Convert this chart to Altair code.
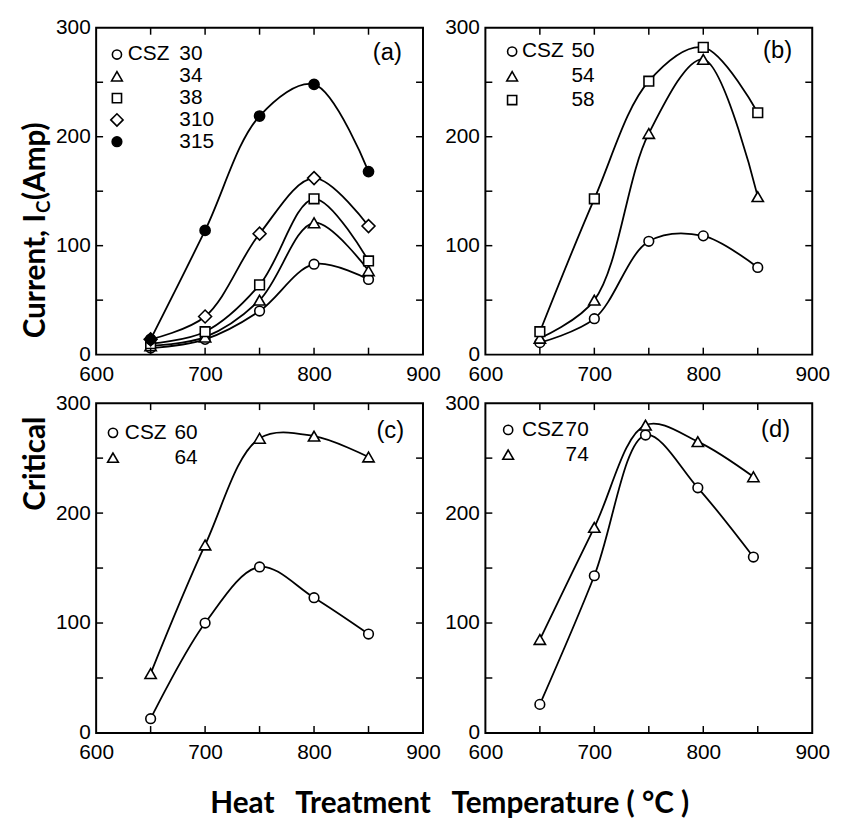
import altair as alt
import pandas as pd

temps = [650, 700, 750, 800, 850]
temps_d = [650, 700, 747, 795, 846]

a_30 = [6, 14, 40, 83, 69]
a_34 = [8, 16, 50, 121, 77]
a_38 = [10, 21, 64, 143, 86]
a_310 = [14, 35, 111, 162, 118]
a_315 = [14, 114, 219, 248, 168]

b_50 = [11, 33, 104, 109, 80]
b_54 = [15, 50, 203, 271, 145]
b_58 = [21, 143, 251, 282, 222]

c_60 = [13, 100, 151, 123, 90]
c_64 = [54, 171, 268, 270, 251]

d_70 = [26, 143, 271, 223, 160]
d_74 = [85, 187, 280, 265, 233]

x_ticks = [600, 700, 800, 900]
y_ticks = [0, 100, 200, 300]
x_minor = [650, 700, 750, 800, 850]
y_minor = [50, 100, 150, 200, 250]

W, H1, H2 = 330, 330, 333
FONT = "Liberation Sans"
TFONT = "Lato"
NB = "\u00a0"

SHAPES = {
    "circle": ("circle", "white", 95),
    "tri": ("triangle-up", "white", 130),
    "square": ("square", "white", 95),
    "diamond": ("diamond", "white", 170),
    "dot": ("circle", "black", 105),
}

xs = alt.Scale(domain=[600, 900], nice=False, zero=False)
ys = alt.Scale(domain=[0, 300], nice=False)
xax = alt.Axis(values=x_ticks, title=None, grid=False, ticks=False, domain=False,
               labelFontSize=21, labelFont=FONT, labelColor="black", labelPadding=9,
               labelFlush=False)
yax = alt.Axis(values=y_ticks, title=None, grid=False, ticks=False, domain=False,
               labelFontSize=21, labelFont=FONT, labelColor="black", labelPadding=6)


def panel(series, tvals, H, tag, tag_pos, leg_x, leg_text_x, leg_num_x, leg_ys):
    layers = []
    rows = []
    for name, vals, kind in series:
        for t, v in zip(tvals, vals):
            rows.append({"T": t, "I": v, "s": name})
    df = pd.DataFrame(rows)
    base = alt.Chart(df)
    layers.append(base.mark_line(interpolate="catmull-rom", color="black", strokeWidth=1.8).encode(
        x=alt.X("T:Q", scale=xs, axis=xax),
        y=alt.Y("I:Q", scale=ys, axis=yax),
        detail="s:N"))
    for i, (name, vals, kind) in enumerate(series):
        shp, fill, size = SHAPES[kind]
        layers.append(base.transform_filter(alt.datum.s == name).mark_point(
            shape=shp, filled=True, fill=fill, stroke="black", strokeWidth=1.6,
            size=size, opacity=1).encode(x=alt.X("T:Q", scale=xs), y=alt.Y("I:Q", scale=ys)))
        one = alt.Chart(pd.DataFrame({"s": [name]}))
        layers.append(one.mark_point(shape=shp, filled=True, fill=fill, stroke="black",
                                     strokeWidth=1.6, size=size * 0.9, opacity=1).encode(
            x=alt.value(leg_x), y=alt.value(leg_ys[i])))
        if i == 0:
            layers.append(one.mark_text(align="left", baseline="middle", font=FONT,
                                        fontSize=21, color="black", text="CSZ").encode(
                x=alt.value(leg_text_x), y=alt.value(leg_ys[i])))
        layers.append(one.mark_text(align="left", baseline="middle", font=FONT,
                                    fontSize=21, color="black").encode(
            x=alt.value(leg_num_x), y=alt.value(leg_ys[i]), text="s:N"))
    tagc = alt.Chart(pd.DataFrame({"t": [tag]}))
    layers.append(tagc.mark_text(align="center", baseline="middle", font=FONT, fontSize=24,
                                 color="black").encode(
        x=alt.value(tag_pos[0]), y=alt.value(tag_pos[1]), text="t:N"))
    # inward minor ticks
    xt = alt.Chart(pd.DataFrame({"T": x_minor}))
    yt = alt.Chart(pd.DataFrame({"I": y_minor}))
    layers.append(xt.mark_rule(color="black", strokeWidth=1.5).encode(
        x=alt.X("T:Q", scale=xs), y=alt.value(0), y2=alt.value(7)))
    layers.append(xt.mark_rule(color="black", strokeWidth=1.5).encode(
        x=alt.X("T:Q", scale=xs), y=alt.value(H), y2=alt.value(H - 7)))
    layers.append(yt.mark_rule(color="black", strokeWidth=1.5).encode(
        y=alt.Y("I:Q", scale=ys), x=alt.value(0), x2=alt.value(7)))
    layers.append(yt.mark_rule(color="black", strokeWidth=1.5).encode(
        y=alt.Y("I:Q", scale=ys), x=alt.value(W), x2=alt.value(W - 7)))
    return layers


pa = panel([("30", a_30, "circle"), ("34", a_34, "tri"), ("38", a_38, "square"),
            ("310", a_310, "diamond"), ("315", a_315, "dot")], temps, H1, "(a)", (294, 26),
           21, 32, 84, [27, 49, 71, 93, 115])
pb = panel([("50", b_50, "circle"), ("54", b_54, "tri"), ("58", b_58, "square")],
           temps, H1, "(b)", (295, 24), 27, 37, 87, [24, 49, 73])
pc = panel([("60", c_60, "circle"), ("64", c_64, "tri")], temps, H2, "(c)", (297, 28),
           17, 29, 79, [30, 55])
pd_ = panel([("70", d_70, "circle"), ("74", d_74, "tri")], temps_d, H2, "(d)", (293, 27),
            23, 37, 81, [27, 52])

# shared y title (in panel a coordinates)
yt_df = alt.Chart(pd.DataFrame({"k": [0]}))
JY = 188
YX = -61
ytitle = [
    yt_df.mark_text(angle=270, align="center", baseline="middle", font=TFONT, fontSize=30,
                    fontWeight="bold", color="black", text="Critical").encode(
        x=alt.value(YX), y=alt.value(440)),
    yt_df.mark_text(angle=270, align="right", baseline="middle", font=TFONT, fontSize=30,
                    fontWeight="bold", color="black", text="Current," + NB + "I").encode(
        x=alt.value(YX), y=alt.value(JY)),
    yt_df.mark_text(angle=270, align="left", baseline="middle", font=TFONT, fontSize=19,
                    fontWeight="bold", color="black", text="C", dx=1, dy=8).encode(
        x=alt.value(YX), y=alt.value(JY)),
    yt_df.mark_text(angle=270, align="left", baseline="middle", font=TFONT, fontSize=30,
                    fontWeight="bold", color="black", text="(Amp)", dx=14).encode(
        x=alt.value(YX), y=alt.value(JY)),
]
xtitle = [
    yt_df.mark_text(align="center", baseline="middle", font=TFONT, fontSize=30,
                    fontWeight="bold", color="black",
                    text="Heat" + NB * 3 + "Treatment" + NB * 3 + "Temperature" + NB + "(" + NB + "°C" + NB + ")").encode(
        x=alt.value(357), y=alt.value(H2 + 72)),
]

A = alt.layer(*(pa + ytitle)).properties(width=W, height=H1)
B = alt.layer(*pb).properties(width=W, height=H1)
C = alt.layer(*(pc + xtitle)).properties(width=W, height=H2)
D = alt.layer(*pd_).properties(width=W, height=H2)

chart = alt.concat(A, B, C, D, columns=2, bounds="flush",
                   spacing={"row": 49, "column": 63}).properties(
    padding={"left": 12, "top": 4, "right": 5, "bottom": 5}
).configure(background="white").configure_view(stroke="black", strokeWidth=2)

chart.save("out.html", embed_options={"renderer": "svg", "actions": False})
